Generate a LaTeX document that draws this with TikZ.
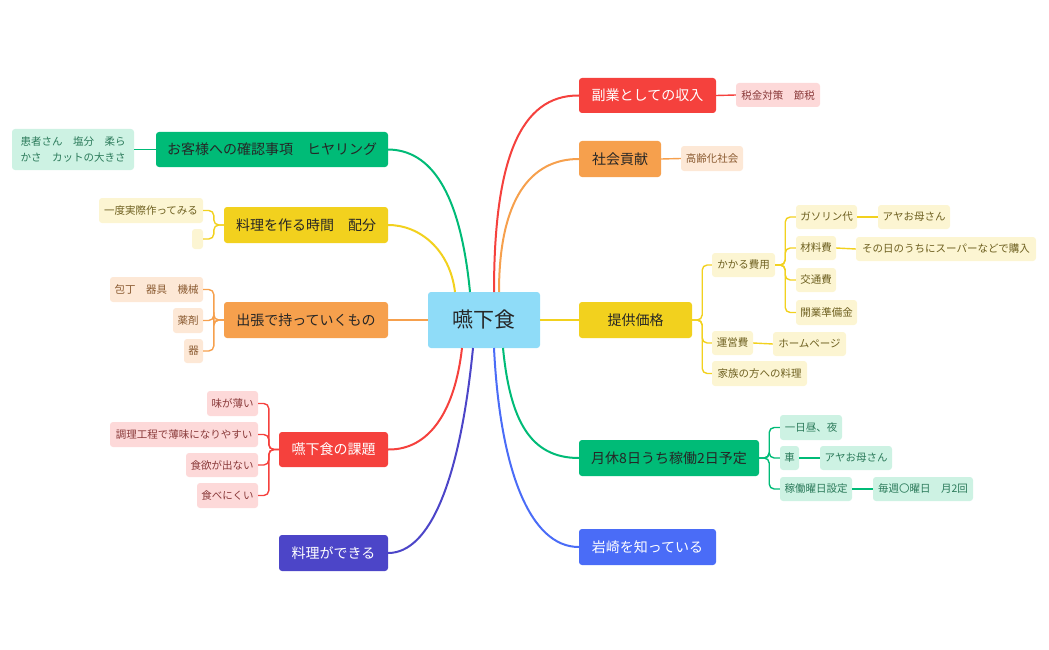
\documentclass[tikz,border=0pt]{standalone}
\usepackage{fontspec}
\setmainfont{Noto Sans CJK JP}
\definecolor{cred}{HTML}{F5413D}
\definecolor{cora}{HTML}{F6A04D}
\definecolor{cyel}{HTML}{F2D11E}
\definecolor{cgrn}{HTML}{00BB77}
\definecolor{cblu}{HTML}{4A6CF7}
\definecolor{cpur}{HTML}{4C45C8}
\definecolor{croot}{HTML}{8FDCF8}
\definecolor{lred}{HTML}{FDD9D9}
\definecolor{lora}{HTML}{FDE8D6}
\definecolor{lyel}{HTML}{FCF5D2}
\definecolor{lgrn}{HTML}{CDF2E3}
\definecolor{tred}{HTML}{8A3A3A}
\definecolor{tora}{HTML}{8A5A30}
\definecolor{tyel}{HTML}{6E6020}
\definecolor{tgrn}{HTML}{2B7A5A}
\tikzset{
 mainbox/.style={rounded corners=3pt, inner sep=0pt, font=\fontsize{14}{16}\selectfont, text=black!85},
 subbox/.style={rounded corners=3pt, inner sep=0pt, font=\fontsize{10.5}{12}\selectfont},
 mline/.style={line width=2pt},
 sline/.style={line width=1.4pt, rounded corners=5pt},
}
% \bx{name}{style}{x1}{y1}{x2}{y2}{text}
\newcommand{\bx}[7]{\node[#2, minimum width={(#5-#3)*1pt}, minimum height={(#6-#4)*1pt}, align=left] (#1) at ({(#3+#5)/2},{(#4+#6)/2}) {#7};}
\begin{document}
\begin{tikzpicture}[x=1pt,y=-1pt]
\useasboundingbox (0,0) rectangle (1049,650);
% root
\bx{root}{mainbox,fill=croot,font=\fontsize{21}{24}\selectfont}{428}{292}{540}{348}{嚥下食}
% right main
\bx{fuk}{mainbox,fill=cred,text=white}{579}{78}{716}{113}{副業としての収入}
\bx{sha}{mainbox,fill=cora}{579}{141}{661}{177}{社会貢献}
\bx{tei}{mainbox,fill=cyel}{579}{302}{692}{338}{提供価格}
\bx{get}{mainbox,fill=cgrn}{579}{440}{759}{476}{月休8日うち稼働2日予定}
\bx{iwa}{mainbox,fill=cblu,text=white}{579}{529}{716}{565}{岩崎を知っている}
% left main
\bx{oky}{mainbox,fill=cgrn}{156}{132}{388}{167}{お客様への確認事項\quad ヒヤリング}
\bx{ryo}{mainbox,fill=cyel}{224}{207}{388}{243}{料理を作る時間\quad 配分}
\bx{shu}{mainbox,fill=cora}{224}{302}{388}{338}{出張で持っていくもの}
\bx{kad}{mainbox,fill=cred,text=white}{279}{432}{388}{467}{嚥下食の課題}
\bx{dek}{mainbox,fill=cpur,text=white}{279}{535}{388}{571}{料理ができる}
% root connectors
\draw[mline,cred] (494,292) .. controls (494,160) and (520,95) .. (fuk.west);
\draw[mline,cora] (499,292) .. controls (499,200) and (530,159) .. (sha.west);
\draw[mline,cyel] (root.east) -- (tei.west);
\draw[mline,cgrn] (503,348) .. controls (510,420) and (530,458) .. (get.west);
\draw[mline,cblu] (494,348) .. controls (500,470) and (530,547) .. (iwa.west);
\draw[mline,cgrn] (470,292) .. controls (460,190) and (430,150) .. (oky.east);
\draw[mline,cyel] (455,292) .. controls (450,250) and (420,225) .. (ryo.east);
\draw[mline,cora] (root.west) -- (shu.west-|shu.east);
\draw[mline,cred] (462,348) .. controls (455,410) and (430,450) .. (kad.east);
\draw[mline,cpur] (473,348) .. controls (460,480) and (430,553) .. (dek.east);
% right children
\bx{zei}{subbox,fill=lred,text=tred}{736}{83}{820}{107}{税金対策\quad 節税}
\draw[sline,cred] (fuk.east) -- (zei.west);
\bx{kor}{subbox,fill=lora,text=tora}{681}{146}{743}{171}{高齢化社会}
\draw[sline,cora] (sha.east) -- (kor.west);
\bx{kak}{subbox,fill=lyel,text=tyel}{712}{253}{775}{277}{かかる費用}
\bx{uei}{subbox,fill=lyel,text=tyel}{712}{331}{753}{355}{運営費}
\bx{kaz}{subbox,fill=lyel,text=tyel}{712}{361}{807}{386}{家族の方への料理}
\foreach \c in {kak,uei,kaz} \draw[sline,cyel] (tei.east) -- ++(10,0) |- (\c.west);
\bx{gas}{subbox,fill=lyel,text=tyel}{796}{205}{857}{229}{ガソリン代}
\bx{zai}{subbox,fill=lyel,text=tyel}{796}{236}{836}{260}{材料費}
\bx{kou}{subbox,fill=lyel,text=tyel}{796}{268}{836}{292}{交通費}
\bx{kai}{subbox,fill=lyel,text=tyel}{796}{300}{857}{325}{開業準備金}
\foreach \c in {gas,zai,kou,kai} \draw[sline,cyel] (kak.east) -- ++(10,0) |- (\c.west);
\bx{aya}{subbox,fill=lyel,text=tyel}{878}{205}{950}{229}{アヤお母さん}
\draw[sline,cyel] (gas.east) -- (aya.west);
\bx{son}{subbox,fill=lyel,text=tyel}{856}{237}{1036}{261}{その日のうちにスーパーなどで購入}
\draw[sline,cyel] (zai.east) -- (son.west);
\bx{hom}{subbox,fill=lyel,text=tyel}{773}{332}{846}{356}{ホームページ}
\draw[sline,cyel] (uei.east) -- (hom.west);
\bx{ich}{subbox,fill=lgrn,text=tgrn}{780}{415}{842}{440}{一日昼、夜}
\bx{kur}{subbox,fill=lgrn,text=tgrn}{780}{446}{799}{470}{車}
\bx{kad2}{subbox,fill=lgrn,text=tgrn}{780}{477}{852}{501}{稼働曜日設定}
\foreach \c in {ich,kur,kad2} \draw[sline,cgrn] (get.east) -- ++(10,0) |- (\c.west);
\bx{aya2}{subbox,fill=lgrn,text=tgrn}{820}{446}{892}{470}{アヤお母さん}
\draw[sline,cgrn] (kur.east) -- (aya2.west);
\bx{mai}{subbox,fill=lgrn,text=tgrn}{873}{477}{973}{501}{毎週〇曜日\quad 月2回}
\draw[sline,cgrn] (kad2.east) -- (mai.west);
% left children
\bx{kan}{subbox,fill=lgrn,text=tgrn,font=\fontsize{10.5}{16}\selectfont}{12}{129}{134}{170}{患者さん\quad 塩分\quad 柔ら\\かさ\quad カットの大きさ}
\draw[sline,cgrn] (oky.west) -- (kan.east);
\bx{ich2}{subbox,fill=lyel,text=tyel}{99}{198}{203}{223}{一度実際作ってみる}
\bx{emp}{subbox,fill=lyel,text=tyel}{192}{229}{203}{249}{}
\foreach \c in {ich2,emp} \draw[sline,cyel] (ryo.west) -- ++(-10,0) |- (\c.east);
\bx{hou}{subbox,fill=lora,text=tora}{110}{277}{203}{302}{包丁\quad 器具\quad 機械}
\bx{yak}{subbox,fill=lora,text=tora}{173}{308}{203}{333}{薬剤}
\bx{utu}{subbox,fill=lora,text=tora}{184}{339}{203}{363}{器}
\foreach \c in {hou,yak,utu} \draw[sline,cora] (shu.west) -- ++(-10,0) |- (\c.east);
\bx{aji}{subbox,fill=lred,text=tred}{207}{391}{258}{416}{味が薄い}
\bx{cho}{subbox,fill=lred,text=tred}{110}{422}{258}{447}{調理工程で薄味になりやすい}
\bx{sho}{subbox,fill=lred,text=tred}{186}{453}{258}{477}{食欲が出ない}
\bx{tab}{subbox,fill=lred,text=tred}{197}{483}{258}{508}{食べにくい}
\foreach \c in {aji,cho,sho,tab} \draw[sline,cred] (kad.west) -- ++(-10,0) |- (\c.east);
\end{tikzpicture}
\end{document}
